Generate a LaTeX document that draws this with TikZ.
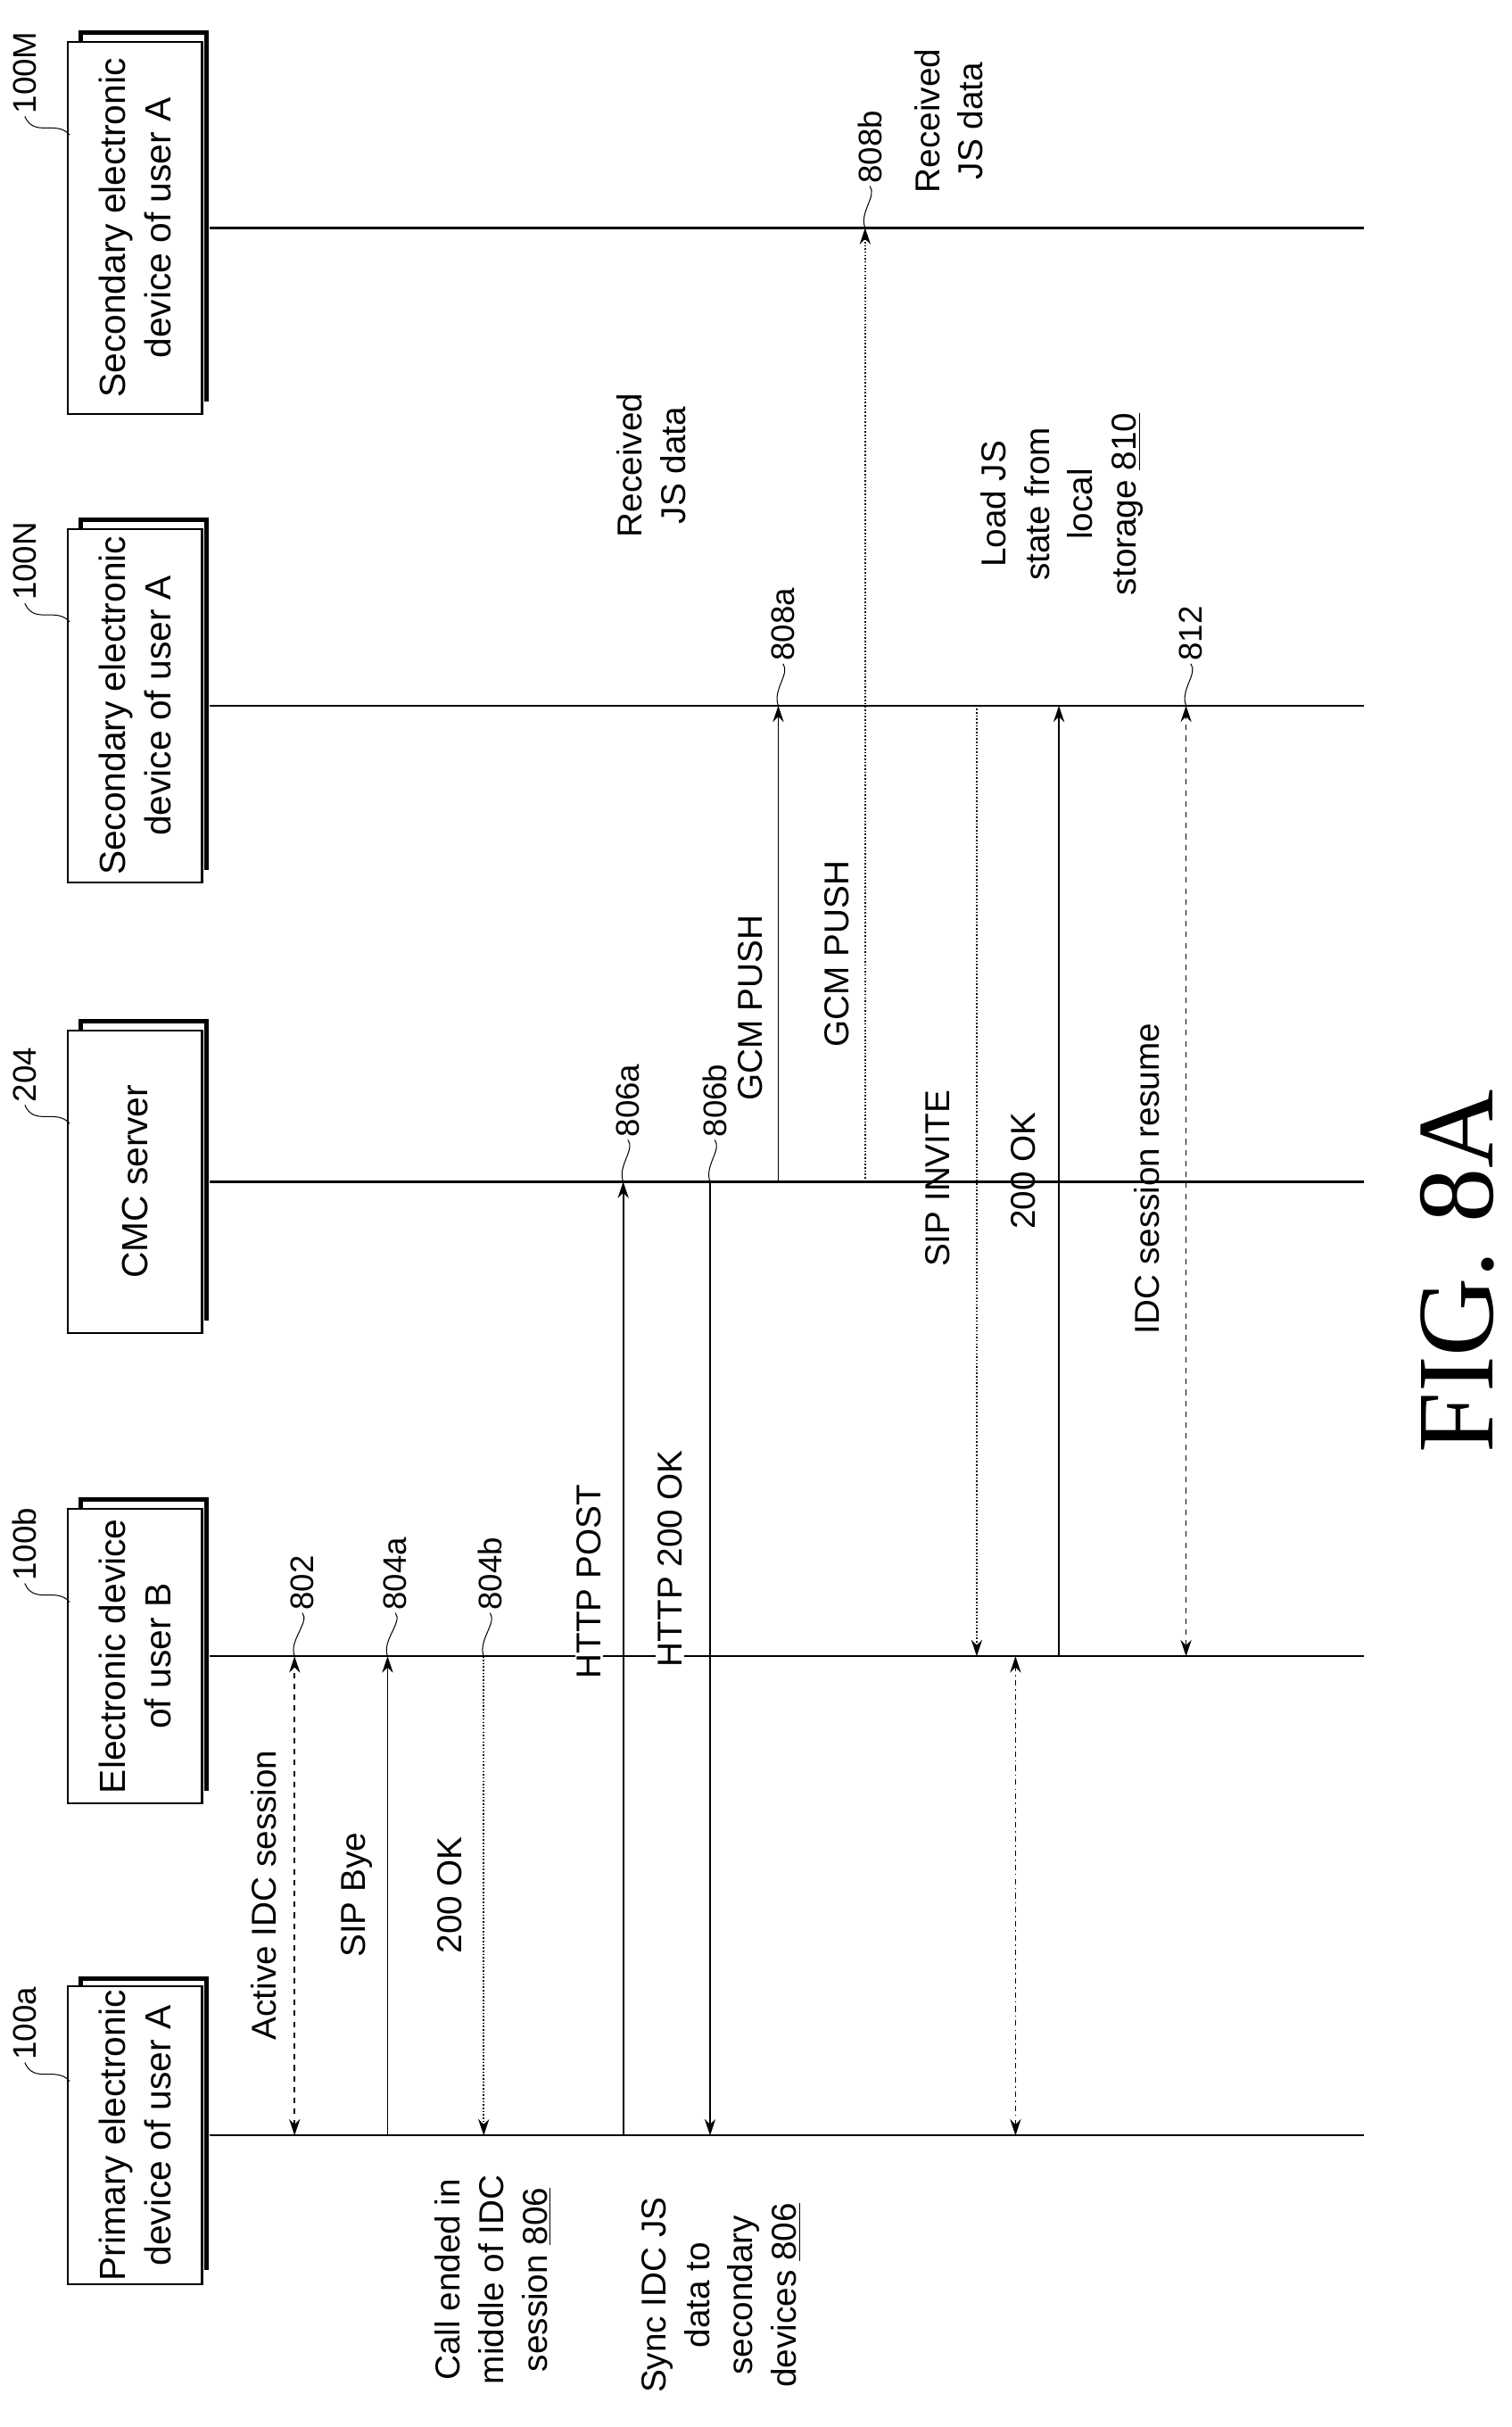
\documentclass[tikz,border=0pt]{standalone}
\usepackage{fontspec}
\setmainfont{Liberation Sans}
\newfontfamily\figfont{Liberation Serif}
\usetikzlibrary{arrows.meta,calc}

\begin{document}
\begin{tikzpicture}[x=0.3mm,y=-0.3mm,line width=1.1pt,
    lbl/.style={rotate=90,align=center,font=\fontsize{19}{24}\selectfont,inner sep=1pt},
    reflbl/.style={rotate=90,anchor=west,font=\fontsize{18}{22}\selectfont,inner sep=1pt},
    msg/.style={line width=0.8pt,-{Stealth[length=9pt,width=6pt]}},
    both/.style={line width=0.8pt,{Stealth[length=9pt,width=6pt]}-{Stealth[length=9pt,width=6pt]}}]
    \useasboundingbox (0,0) rectangle (975,1565);

    % lifelines
    \foreach \name/\y in {A/1377, B/1068, C/762, N/455, M/147}
        \draw (135,\y) coordinate (\name0) -- (880,\y) coordinate (\name1);

    % device boxes with shadow
    \foreach \name/\y/\w/\txt/\rf in {pa/1377/190/{Primary electronic\\device of user A}/100a,
                                   pb/1068/190/{Electronic device\\of user B}/100b,
                                   pc/762/195/{CMC server}/204,
                                   pn/455/228/{Secondary electronic\\device of user A}/100N,
                                   pm/147/240/{Secondary electronic\\device of user A}/100M}{
        \draw[line width=2.4pt] (52,\y+\w/2-8) -- (52,\y-\w/2-6) -- (133,\y-\w/2-6) -- (133,\y+\w/2-8);
        \node[draw,fill=white,rotate=90,minimum width=\w*0.3mm,minimum height=26mm,align=center,
              font=\fontsize{20}{25}\selectfont,inner sep=2pt] (\name) at (87,\y) {\txt};
        \node[reflbl] (\name r) at (16,\y-\w/2+48) {\rf};
        \draw[line width=0.5pt] (\name r.west) .. controls (22,\y-\w/2+62) and (36,\y-\w/2+50) .. (45,\y-\w/2+60);
    }

    % messages
    \draw[both,dashed] (190,1377) -- (190,1068) coordinate (m802);
    \draw[msg] (250,1377) -- (250,1068) coordinate (m804a);
    \draw[msg,densely dotted] (312,1068) coordinate (m804b) -- (312,1377);
    \draw[msg] (402,1377) -- (402,762) coordinate (m806a);
    \draw[msg] (458,762) coordinate (m806b) -- (458,1377);
    \draw[msg] (502,762) -- (502,455) coordinate (m808a);
    \draw[msg,densely dotted] (558,762) -- (558,147) coordinate (m808b);
    \draw[msg,densely dotted] (630,455) -- (630,1068);
    \draw[both,dash dot] (655,1377) -- (655,1068);
    \draw[msg] (683,1068) -- (683,455);
    \draw[both,dashed] (765,1068) -- (765,455) coordinate (m812);

    % reference numerals
    \foreach \c/\x/\y/\t in {m802/195/1040/802, m804a/255/1040/804a, m804b/316/1040/804b,
                             m806a/405/735/806a, m806b/461/735/806b, m808a/505/428/808a,
                             m808b/561/120/808b, m812/768/428/812}{
        \node[reflbl] (\c t) at (\x,\y) {\t};
        \draw[line width=0.5pt] (\c) .. controls ($(\c)+(-4,-10)$) and ($(\c t.west)+(5,6)$) .. (\c t.west);
    }

    % message labels
    \node[lbl] (t1) at (170,1222) {Active IDC session};
    \node[lbl] (t2) at (230,1222) {SIP Bye};
    \node[lbl] (t3) at (290,1222) {200 OK};
    \node[lbl,fill=white] (t4) at (380,1020) {HTTP POST};
    \node[lbl,fill=white] (t5) at (432,1005) {HTTP 200 OK};
    \node[lbl] (t6) at (484,650) {GCM PUSH};
    \node[lbl] (t7) at (540,615) {GCM PUSH};
    \node[lbl] (t8) at (605,760) {SIP INVITE};
    \node[lbl] (t9) at (660,755) {200 OK};
    \node[lbl] (t10) at (740,760) {IDC session resume};
    \node[lbl] (t11) at (420,300) {Received\\JS data};
    \node[lbl] (t12) at (612,78) {Received\\JS data};
    \node[lbl] (t13) at (685,325) {Load JS\\state from\\local\\storage \underline{810}};
    \node[lbl] (t14) at (318,1470) {Call ended in\\middle of IDC\\session \underline{806}};
    \node[lbl] (t15) at (465,1480) {Sync IDC JS\\data to\\secondary\\devices \underline{806}};

    \node[rotate=90,font=\figfont\fontsize{60}{70}\selectfont] (fig) at (940,820) {FIG. 8A};
\end{tikzpicture}
\end{document}
